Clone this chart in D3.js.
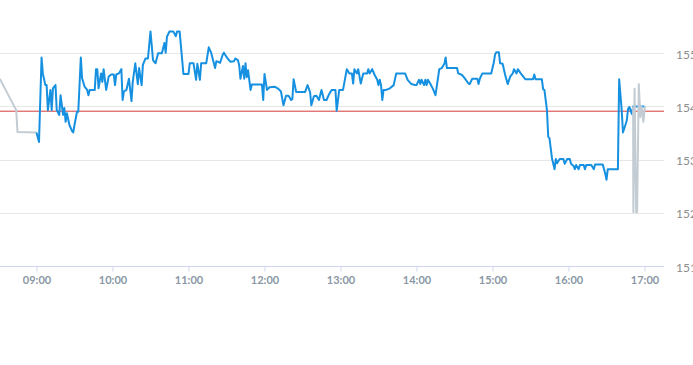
<!DOCTYPE html>
<html>
<head>
<meta charset="utf-8">
<script src="https://cdn.jsdelivr.net/npm/d3@7"></script>
<style>
  html, body { margin: 0; padding: 0; background: #fff; }
  svg { display: block; }
</style>
</head>
<body>
<div id="chart"></div>
<script>
// ---------- DATA ----------
const xTickLabels = ["09:00","10:00","11:00","12:00","13:00","14:00","15:00","16:00","17:00"];
const yTicks = [151, 152, 153, 154, 155];
const refPrice = 153.91;

const sessionTimes = ["09:00","09:02","09:04","09:05","09:07","09:08","09:09","09:11","09:12","09:13","09:15","09:16","09:18","09:19","09:21","09:22","09:23","09:24","09:26","09:28","09:29","09:30","09:32","09:33","09:35","09:36","09:38","09:40","09:41","09:42","09:46","09:47","09:48","09:49","09:51","09:52","09:53","09:55","09:56","09:57","09:59","10:01","10:02","10:03","10:05","10:07","10:08","10:09","10:11","10:13","10:15","10:16","10:18","10:20","10:21","10:23","10:24","10:26","10:28","10:30","10:32","10:34","10:36","10:39","10:41","10:42","10:43","10:45","10:48","10:50","10:51","10:53","10:56","11:00","11:01","11:04","11:06","11:07","11:09","11:10","11:14","11:16","11:18","11:21","11:22","11:25","11:27","11:28","11:30","11:31","11:33","11:36","11:37","11:39","11:40","11:41","11:43","11:44","11:45","11:46","11:47","11:49","11:50","11:58","11:59","12:00","12:02","12:04","12:08","12:11","12:13","12:15","12:17","12:19","12:21","12:22","12:23","12:25","12:32","12:34","12:36","12:37","12:39","12:41","12:43","12:45","12:47","12:49","12:51","12:53","12:56","12:57","12:59","13:02","13:05","13:07","13:09","13:10","13:11","13:13","13:14","13:16","13:18","13:21","13:22","13:23","13:25","13:27","13:29","13:30","13:31","13:32","13:33","13:34","13:36","13:39","13:42","13:44","13:51","13:53","13:56","13:59","14:00","14:02","14:03","14:04","14:06","14:07","14:08","14:09","14:11","14:13","14:15","14:18","14:20","14:22","14:23","14:24","14:32","14:33","14:36","14:38","14:41","14:42","14:44","14:46","14:48","14:49","14:50","14:52","14:59","15:01","15:02","15:03","15:05","15:06","15:08","15:10","15:12","15:14","15:16","15:17","15:19","15:20","15:22","15:26","15:32","15:33","15:34","15:39","15:40","15:41","15:43","15:44","15:45","15:47","15:49","15:50","15:51","15:53","15:56","15:57","15:59","16:01","16:02","16:04","16:05","16:06","16:08","16:09","16:12","16:13","16:14","16:18","16:20","16:21","16:27","16:29","16:30","16:31","16:39","16:40","16:42","16:43","16:46","16:47","16:48","16:50","16:51","17:00"];
const sessionPrices = [153.51,153.33,154.92,154.62,154.40,154.40,153.93,154.31,153.93,154.34,154.40,153.93,153.84,154.21,153.84,153.97,153.71,153.87,153.65,153.54,153.51,153.65,153.90,153.90,154.92,154.53,154.37,154.31,154.21,154.31,154.31,154.70,154.70,154.34,154.62,154.46,154.70,154.31,154.43,154.56,154.60,154.60,154.40,154.60,154.62,154.70,154.12,154.28,154.31,154.52,154.10,154.46,154.81,154.42,154.72,154.40,154.78,154.90,154.90,155.41,154.87,154.81,155.00,155.00,155.19,155.01,155.31,155.41,155.41,155.32,155.41,155.41,154.61,154.61,154.81,154.81,154.50,154.80,154.50,154.81,154.81,155.11,155.00,154.72,154.85,154.82,154.97,155.01,154.93,154.90,154.84,154.85,154.90,154.87,154.78,154.52,154.76,154.52,154.81,154.55,154.68,154.31,154.41,154.41,154.12,154.61,154.31,154.36,154.37,154.33,154.28,154.02,154.20,154.20,154.12,154.14,154.51,154.27,154.27,154.40,154.27,154.02,154.19,154.20,154.12,154.31,154.12,154.12,154.23,154.31,154.31,153.92,154.31,154.31,154.70,154.62,154.62,154.43,154.70,154.62,154.70,154.43,154.62,154.62,154.70,154.62,154.70,154.59,154.50,154.40,154.50,154.40,154.12,154.31,154.31,154.34,154.40,154.62,154.62,154.50,154.42,154.40,154.40,154.50,154.42,154.50,154.40,154.50,154.40,154.50,154.42,154.33,154.21,154.70,154.72,154.80,154.92,154.72,154.72,154.62,154.59,154.53,154.43,154.42,154.52,154.52,154.52,154.42,154.52,154.62,154.62,154.82,154.97,155.02,155.02,154.81,154.80,154.59,154.42,154.56,154.62,154.70,154.62,154.70,154.63,154.51,154.51,154.60,154.51,154.51,154.32,154.31,153.93,153.43,153.40,153.02,152.82,153.01,152.93,153.01,153.01,152.92,153.01,153.01,152.92,152.88,152.82,152.90,152.82,152.90,152.90,152.82,152.90,152.90,152.82,152.91,152.91,152.74,152.62,152.82,152.82,154.51,153.93,153.51,153.73,153.95,153.99,153.86,154.00,154.00];

const preTimes = ["08:31","08:44","08:45","09:00"];
const prePrices = [154.52,153.93,153.52,153.51];

const postTimes = ["16:51:00","16:51:12","16:52:10","16:53:24","16:54:10","16:55:30","16:56:42","16:57:48","16:59:06","17:00:24"];
const postPrices = [154.00,152.01,154.33,152.01,152.01,154.42,153.80,153.99,153.71,154.00];

const domainStart = "08:31:12";
const domainEnd = "17:15:24";

// ---------- CHART ----------
const W = 693, H = 365;
const plot = { left: 0, right: 664, top: 0, bottom: 266 };

const parse = s => { const p = s.split(":").map(Number); return new Date(2024, 0, 2, p[0], p[1], p[2] || 0); };
const zip = (ts, vs) => ts.slice(0, Math.min(ts.length, vs.length)).map((t, i) => ({ t: parse(t), v: vs[i] }));

const x = d3.scaleTime().domain([parse(domainStart), parse(domainEnd)]).range([plot.left, plot.right]);
const y = d3.scaleLinear().domain([151, 156]).range([plot.bottom, plot.top]);

const svg = d3.select("#chart").append("svg").attr("width", W).attr("height", H);
svg.append("rect").attr("width", W).attr("height", H).attr("fill", "#fff");

svg.append("defs").append("clipPath").attr("id", "clip")
  .append("rect").attr("x", plot.left).attr("y", plot.top).attr("width", plot.right - plot.left).attr("height", plot.bottom - plot.top);

// grid lines
svg.append("g").selectAll("line").data(yTicks.filter(d => d !== 151)).join("line")
  .attr("x1", plot.left).attr("x2", plot.right)
  .attr("y1", d => Math.round(y(d)) + 0.5).attr("y2", d => Math.round(y(d)) + 0.5)
  .attr("stroke", "#e6e6e6").attr("stroke-width", 1);

// y labels (right side)
svg.append("g").selectAll("text").data(yTicks).join("text")
  .attr("x", 676).attr("y", d => y(d) + 5.5)
  .attr("font-family", "Lato, 'Open Sans', sans-serif").attr("font-size", 12)
  .attr("fill", "#8c8c8c").text(d => d);

// x axis
const xAxis = d3.axisBottom(x)
  .tickValues(xTickLabels.map(parse))
  .tickFormat(d3.timeFormat("%H:%M"))
  .tickSize(5).tickPadding(5).tickSizeOuter(0);
const gx = svg.append("g").attr("transform", `translate(0,${Math.round(plot.bottom) + 0.5})`).call(xAxis);
gx.select(".domain").attr("stroke", "#ccd6eb").attr("d", `M${plot.left},0H${plot.right}`);
gx.selectAll(".tick line").attr("stroke", "#ccd6eb");
gx.selectAll(".tick text").attr("fill", "#8a97a5")
  .attr("font-family", "Lato, 'Open Sans', sans-serif").attr("font-size", 11).attr("font-weight", "bold");

// reference line
svg.append("line")
  .attr("x1", plot.left).attr("x2", plot.right)
  .attr("y1", y(refPrice)).attr("y2", y(refPrice))
  .attr("stroke", "#d43a3a").attr("stroke-width", 1);

const line = d3.line().x(d => x(d.t)).y(d => y(d.v));
const lines = svg.append("g").attr("clip-path", "url(#clip)");

lines.append("path").datum(zip(preTimes, prePrices))
  .attr("d", line).attr("fill", "none").attr("stroke", "#c3ccd3").attr("stroke-width", 2).attr("stroke-linejoin", "round");

lines.append("path").datum(zip(sessionTimes, sessionPrices))
  .attr("d", line).attr("fill", "none").attr("stroke", "#1690e0").attr("stroke-width", 2).attr("stroke-linejoin", "round");

lines.append("path").datum(zip(postTimes, postPrices))
  .attr("d", line).attr("fill", "none").attr("stroke", "#c3ccd3").attr("stroke-width", 2).attr("stroke-linejoin", "round");
</script>
</body>
</html>
